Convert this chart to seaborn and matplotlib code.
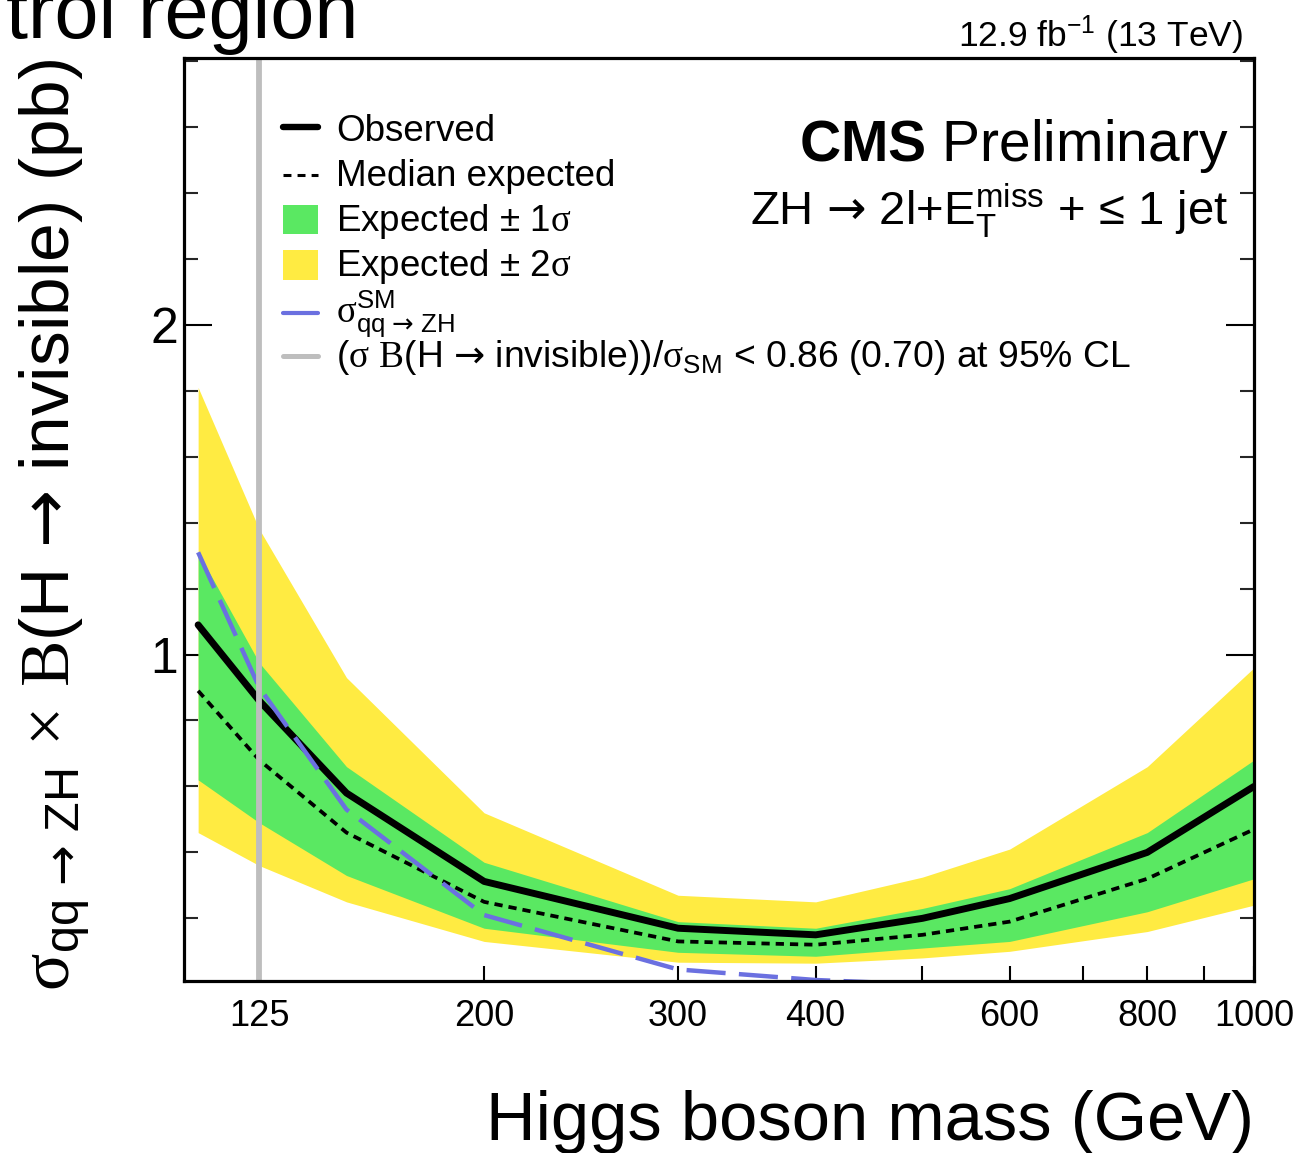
import matplotlib
matplotlib.use("Agg")
import matplotlib.pyplot as plt
import seaborn as sns
import pandas as pd
from matplotlib.ticker import FixedLocator, FixedFormatter, MultipleLocator, NullFormatter
from matplotlib.lines import Line2D
from matplotlib.patches import Rectangle

# ---------------------------------------------------------------- data
mass = [110, 125, 150, 200, 300, 400, 500, 600, 800, 1000]
observed = [1.09, 0.86, 0.58, 0.312, 0.17, 0.15, 0.20, 0.26, 0.40, 0.60]
expected = [0.89, 0.68, 0.46, 0.25, 0.13, 0.12, 0.15, 0.19, 0.32, 0.47]
exp_1s_lo = [0.62, 0.49, 0.33, 0.17, 0.097, 0.085, 0.11, 0.13, 0.22, 0.32]
exp_1s_hi = [1.31, 0.975, 0.66, 0.37, 0.19, 0.17, 0.23, 0.29, 0.46, 0.68]
exp_2s_lo = [0.46, 0.36, 0.25, 0.13, 0.067, 0.064, 0.08, 0.10, 0.16, 0.24]
exp_2s_hi = [1.81, 1.38, 0.93, 0.52, 0.27, 0.25, 0.325, 0.41, 0.66, 0.96]

sm_mass = [110, 125, 150, 200, 300, 400, 500]
sm_xsec = [1.31, 0.90, 0.53, 0.21, 0.045, 0.013, 0.0]

higgs_mass = 125
x_tick_values = [125, 200, 300, 400, 500, 600, 700, 800, 900, 1000]
x_tick_labels = ["125", "200", "300", "400", "", "600", "", "800", "", "1000"]
y_tick_values = [1, 2]
y_tick_labels = ["1", "2"]

# ---------------------------------------------------------------- style
GREEN = "#5AE862"
YELLOW = "#FFEB42"
BLUE = "#6B70E0"
GREY = "#BEBEBE"

sns.set_theme(style="white")
plt.rcParams["font.family"] = ["Liberation Sans", "DejaVu Sans"]
plt.rcParams["mathtext.fontset"] = "custom"
plt.rcParams["mathtext.rm"] = "Liberation Serif"
plt.rcParams["mathtext.sf"] = "Liberation Sans"
plt.rcParams["mathtext.it"] = "Liberation Sans:italic"
plt.rcParams["mathtext.bf"] = "Liberation Sans:bold"
# wide arrow glyphs
plt.rcParams["mathtext.cal"] = "DejaVu Sans"
plt.rcParams["text.color"] = "black"

ARROW = r"$\mathcal{→}$"

W, H = 1296, 1153
fig = plt.figure(figsize=(W / 100, H / 100), dpi=100)
fig.patch.set_facecolor("white")


def fx(px):
    return px / W


def fy(py):
    return 1 - py / H


ax = fig.add_axes([fx(184), fy(981), fx(1254) - fx(184), fy(58) - fy(981)])
ax.set_facecolor("white")

df = pd.DataFrame({
    "mass": mass, "observed": observed, "expected": expected,
})
df_sm = pd.DataFrame({"mass": sm_mass, "xsec": sm_xsec})

# expected bands
ax.fill_between(mass, exp_2s_lo, exp_2s_hi, color=YELLOW, lw=0, zorder=1)
ax.fill_between(mass, exp_1s_lo, exp_1s_hi, color=GREEN, lw=0, zorder=2)

# median expected and observed limits
sns.lineplot(data=df, x="mass", y="expected", ax=ax, color="black",
             lw=2.7, linestyle=(0, (2.2, 1.6)), zorder=3)
sns.lineplot(data=df, x="mass", y="observed", ax=ax, color="black",
             lw=5.0, zorder=4)
# SM cross section
sns.lineplot(data=df_sm, x="mass", y="xsec", ax=ax, color=BLUE,
             lw=3.2, linestyle=(0, (8.8, 3.0)), zorder=5)
# Higgs mass marker
ax.axvline(higgs_mass, color=GREY, lw=4.2, zorder=6)

# ---------------------------------------------------------------- axes
ax.set_xscale("log")
ax.set_xlim(106.8, 1000)
ax.set_ylim(0.01, 2.809)
ax.set_xlabel("")
ax.set_ylabel("")

ax.xaxis.set_major_locator(FixedLocator(x_tick_values))
ax.xaxis.set_major_formatter(FixedFormatter(x_tick_labels))
ax.xaxis.set_minor_locator(FixedLocator([]))
ax.xaxis.set_minor_formatter(NullFormatter())
ax.yaxis.set_major_locator(FixedLocator(y_tick_values))
ax.yaxis.set_major_formatter(FixedFormatter(y_tick_labels))
ax.yaxis.set_minor_locator(MultipleLocator(0.2))

ax.tick_params(axis="x", which="major", direction="in", length=11, width=1.5,
               bottom=True, top=False, labelsize=26, pad=13, colors="black")
ax.tick_params(axis="y", which="major", direction="in", length=20, width=1.5,
               left=True, right=True, labelsize=36, pad=4, colors="black")
ax.tick_params(axis="y", which="minor", direction="in", length=10, width=1.5,
               left=True, right=True)

for sp in ax.spines.values():
    sp.set_visible(True)
    sp.set_color("black")
    sp.set_linewidth(2.3)
    sp.set_zorder(10)

# ---------------------------------------------------------------- labels
fig.text(fx(1254), fy(1140), "Higgs boson mass (GeV)", ha="right",
         va="baseline", fontsize=49.5)
fig.text(fx(55), fy(525),
         r"$\mathrm{\sigma}_{\mathsf{qq}\ \mathcal{→}\ \mathsf{ZH}}$ $\times$ "
         r"$\mathrm{B}$(H " + ARROW + " invisible) (pb)",
         rotation=90, ha="center", va="center", fontsize=50)
fig.text(fx(6), fy(38), "trol region", ha="left", va="baseline", fontsize=57)

fig.text(fx(1243), fy(47), r"12.9 fb$^{\mathsf{-1}}$ (13 TeV)", ha="right",
         va="baseline", fontsize=25.5)
fig.text(fx(1228), fy(161), r"$\mathbf{CMS}$ Preliminary", ha="right",
         va="baseline", fontsize=41)
fig.text(fx(1228), fy(225),
         "ZH " + ARROW + r" 2l+E$_{\mathsf{T}}^{\mathsf{miss}}$ + ≤ 1 jet",
         ha="right", va="baseline", fontsize=34)

# ---------------------------------------------------------------- legend
hx0, hx1, tx = 283, 318, 336
fig.add_artist(Line2D([fx(hx0), fx(hx1)], [fy(127), fy(127)],
                      transform=fig.transFigure, color="black", lw=4.6))
fig.add_artist(Line2D([fx(hx0), fx(hx1)], [fy(175), fy(175)],
                      transform=fig.transFigure, color="black", lw=2.2,
                      linestyle=(0, (2.6, 2.0))))
fig.add_artist(Rectangle((fx(hx0), fy(234)), fx(hx1) - fx(hx0),
                         fy(205) - fy(234), transform=fig.transFigure,
                         color=GREEN, lw=0))
fig.add_artist(Rectangle((fx(hx0), fy(280)), fx(hx1) - fx(hx0),
                         fy(250) - fy(280), transform=fig.transFigure,
                         color=YELLOW, lw=0))
fig.add_artist(Line2D([fx(hx0), fx(hx1)], [fy(313), fy(313)],
                      transform=fig.transFigure, color=BLUE, lw=3.0))
fig.add_artist(Line2D([fx(hx0), fx(hx1)], [fy(356), fy(356)],
                      transform=fig.transFigure, color=GREY, lw=3.6))

leg_fs = 26.5
fig.text(fx(tx), fy(141), "Observed", va="baseline", fontsize=leg_fs)
fig.text(fx(tx), fy(186), "Median expected", va="baseline", fontsize=leg_fs)
fig.text(fx(tx), fy(231), r"Expected ± 1$\mathrm{\sigma}$", va="baseline",
         fontsize=leg_fs)
fig.text(fx(tx), fy(276), r"Expected ± 2$\mathrm{\sigma}$", va="baseline",
         fontsize=leg_fs)
fig.text(fx(tx), fy(322),
         r"$\mathrm{\sigma}^{\mathsf{SM}}_{\mathsf{qq}\ \mathcal{→}\ \mathsf{ZH}}$",
         va="baseline", fontsize=leg_fs)
fig.text(fx(tx), fy(367),
         r"($\mathrm{\sigma}$ $\mathrm{B}$(H " + ARROW + " invisible))/"
         r"$\mathrm{\sigma}_{\mathsf{SM}}$ < 0.86 (0.70) at 95% CL",
         va="baseline", fontsize=26.8)

fig.savefig("out.png", dpi=100, facecolor="white")
